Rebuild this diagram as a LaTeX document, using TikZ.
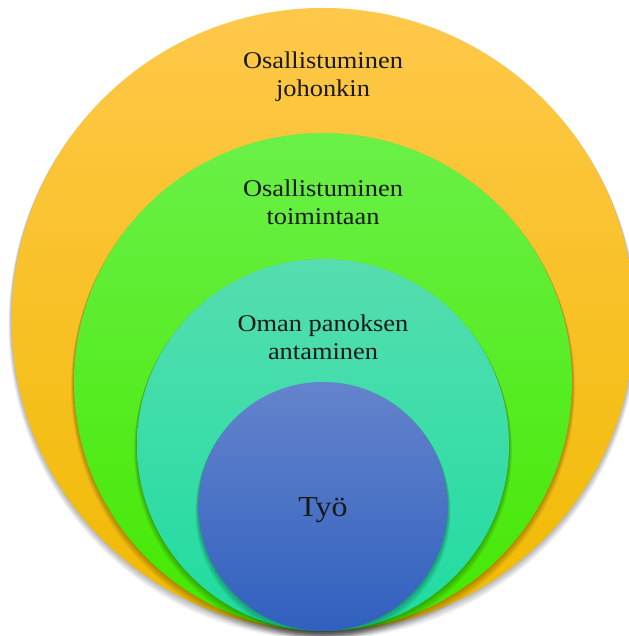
\documentclass[tikz,border=0pt]{standalone}
\usepackage{fontspec}
\setmainfont[FakeStretch=1.1]{Liberation Serif}
\begin{document}
\begin{tikzpicture}[x=1pt,y=1pt,
  ring/.style={circle, inner sep=0pt, draw=none},
  lbl/.style={align=center, text=black!90, font=\fontsize{24}{28}\selectfont},
]
\definecolor{yTop}{RGB}{255,200,74}
\definecolor{yMid}{RGB}{255,194,14}
\definecolor{yBot}{RGB}{240,186,0}
\definecolor{gTop}{RGB}{106,240,72}
\definecolor{gMid}{RGB}{78,242,16}
\definecolor{gBot}{RGB}{68,232,0}
\definecolor{tTop}{RGB}{86,221,176}
\definecolor{tBot}{RGB}{30,220,160}
\definecolor{bTop}{RGB}{100,132,204}
\definecolor{bBot}{RGB}{48,96,190}
\useasboundingbox (0,0) rectangle (628,636);
\fill[white] (0,0) rectangle (628,636);
% soft shadows + circles
\foreach \cx/\cy/\r/\tc/\mc/\bc/\nm in {323/316.5/311.5/yTop/yMid/yBot/c1, 323/254/249/gTop/gMid/gBot/c2, 323/191/186/tTop/tBot/tBot/c3, 323/129.5/124.5/bTop/bTop!50!bBot/bBot/c4}{
  \foreach \k in {1,...,5}{
    \fill[black, opacity=0.06] (\cx,\cy-1.2*\k+0.6) circle ({\r+0.6*\k});
  }
  \node[ring, minimum size={2*\r}, top color=\tc, middle color=\mc, bottom color=\bc] (\nm) at (\cx,\cy) {};
}
\node[lbl] (t1) at (323,559) {Osallistuminen\\johonkin};
\node[lbl] (t2) at (323,434) {Osallistuminen\\toimintaan};
\node[lbl] (t3) at (323,299) {Oman panoksen\\antaminen};
\node[lbl, font=\fontsize{29}{33}\selectfont] (t4) at (323,126) {Työ};
\end{tikzpicture}
\end{document}
